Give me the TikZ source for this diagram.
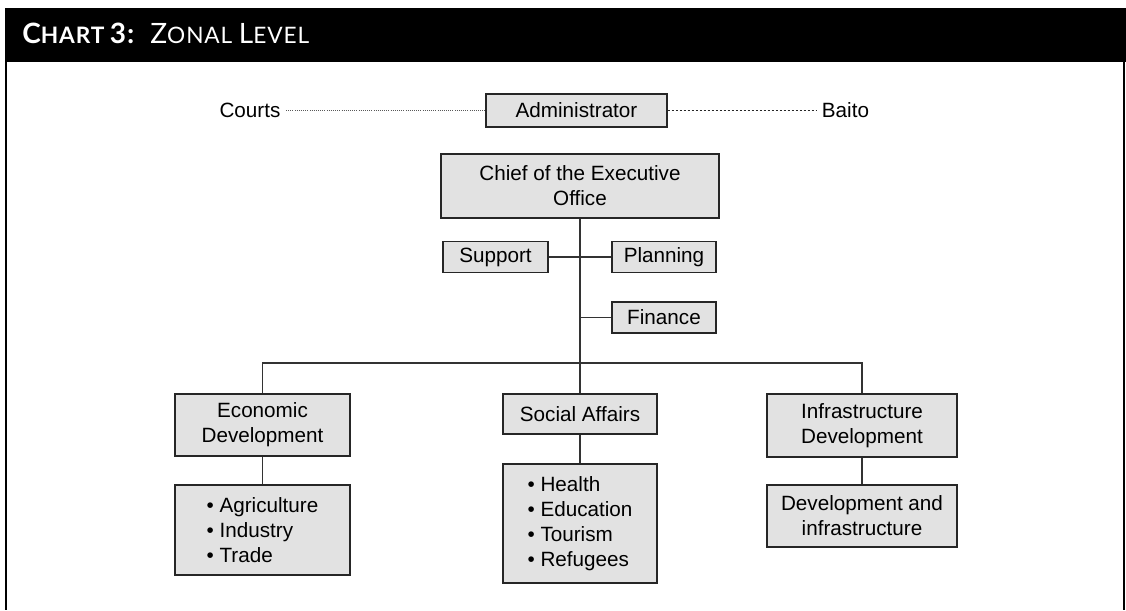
\documentclass[tikz,border=0pt]{standalone}
\usepackage{fontspec}
\setmainfont{Liberation Sans}
\newfontfamily\headfont[LetterSpace=4]{Lato}
\usetikzlibrary{calc}
\definecolor{boxgray}{HTML}{E2E2E2}
\newcommand\orgfont{\fontsize{15.5}{18.75}\selectfont}
\newcommand\hdbig[1]{{\fontsize{21}{21}\selectfont #1}}
\newcommand\hdsmall[1]{{\fontsize{17}{21}\selectfont #1}}
\tikzset{
  orgbox/.style={draw=black!85, fill=boxgray, line width=1pt, inner sep=2pt,
    align=center, font=\orgfont},
  wh/.style 2 args={minimum width=#1*0.75pt, minimum height=#2*0.75pt},
  link/.style={line width=0.8pt, draw=black!80},
  dotlink/.style={line width=0.6pt, densely dotted, draw=black!65},
  dashlink/.style={line width=0.6pt, dash pattern=on 2pt off 1pt, draw=black!85},
  label text/.style={inner sep=0pt, inner xsep=4pt, font=\orgfont}
}
\begin{document}
\begin{tikzpicture}[x=0.75pt, y=-0.75pt]
  \useasboundingbox (0,0) rectangle (1126,610);
  % frame and title bar
  \fill[black] (5,8) rectangle (1126,62);
  \draw[line width=1.5pt] (6,62) -- (6,610);
  \draw[line width=1.5pt] (1124,62) -- (1124,610);
  \node[anchor=base west, inner sep=0pt, text=white] (title) at (22,44)
    {{\headfont\bfseries\hdbig{C}\hdsmall{HART}\hspace{4pt}\hdbig{3:}}\hspace{12pt}%
     {\headfont\hdbig{Z}\hdsmall{ONAL}\hspace{2pt} \hdbig{L}\hdsmall{EVEL}}};

  % top row
  \node[orgbox, wh={181}{33}] (admin) at (576.5,110.5) {Administrator};
  \node[label text] (courts) at (250,110.5) {Courts};
  \node[label text] (baito) at (845.5,110.5) {Baito};
  \draw[dotlink] (courts.east) -- (admin.west);
  \draw[dashlink] (admin.east) -- (baito.west);

  % executive office and staff units
  \node[orgbox, wh={278}{64}] (chief) at (580,186) {Chief of the Executive\\Office};
  \node[orgbox, wh={105}{31}] (support) at (495.5,257) {Support};
  \node[orgbox, wh={104}{31}] (planning) at (664,257) {Planning};
  \node[orgbox, wh={104}{31}] (finance) at (664,317.5) {Finance};
  \coordinate (bus) at (580,363);
  \draw[link] (chief.south) -- (bus);
  \draw[link] (support.east) -- (planning.west);
  \draw[link] (finance.west) -- (finance.west -| chief.south);

  % departments
  \node[orgbox, wh={175}{62}] (econ) at (262.5,425) {Economic\\Development};
  \node[orgbox, wh={154}{40}] (social) at (580,414) {Social Affairs};
  \node[orgbox, wh={190}{63}] (infra) at (862,425.5) {Infrastructure\\Development};
  \draw[link] (econ.north) |- (bus) -| (infra.north);
  \draw[link] (bus) -- (social.north);

  % sub units
  \node[orgbox, wh={175}{90}, align=left] (econlist) at (262.5,530)
    {• Agriculture\\• Industry\\• Trade};
  \node[orgbox, wh={154}{119}, align=left] (sociallist) at (580,523.5)
    {• Health\\• Education\\• Tourism\\• Refugees};
  \node[orgbox, wh={190}{62}] (infrasub) at (862,516) {Development and\\infrastructure};
  \draw[link] (econ) -- (econlist);
  \draw[link] (social) -- (sociallist);
  \draw[link] (infra) -- (infrasub);
\end{tikzpicture}
\end{document}
